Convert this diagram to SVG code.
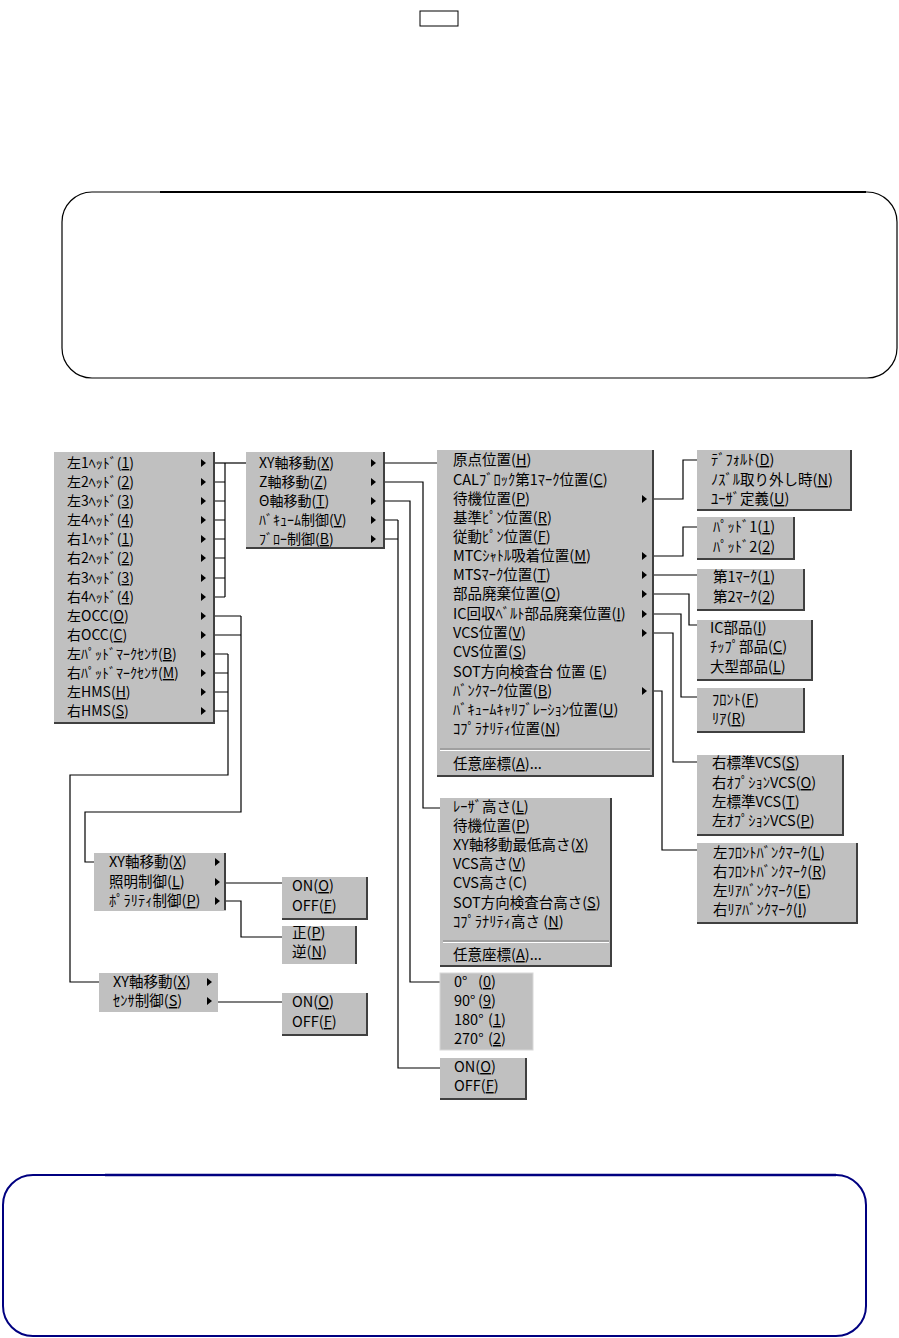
<svg xmlns="http://www.w3.org/2000/svg" xmlns:xlink="http://www.w3.org/1999/xlink" width="899" height="1338" viewBox="0 0 899 1338">
<style>
text{font-family:"Noto Sans CJK JP","Noto Sans",sans-serif;font-size:14.5px;fill:#000}
.s14{font-size:14px}
.u{text-decoration:underline}
.bg{fill:#c0c0c0}
.edge{fill:none;stroke:#404040;stroke-width:2}
.sepd{stroke:#808080;stroke-width:1}
.sepl{stroke:#ffffff;stroke-width:1}
.conn path{fill:none;stroke:#000;stroke-width:1.2}
</style>
<defs>
<path id="arr" d="M0,-4L5,0L0,4Z" fill="#000"/>
</defs>

<g id="top-box">
<rect x="420" y="11" width="38" height="15" fill="none" stroke="#000" stroke-width="1"/>
</g>

<g id="note-box-1">
<rect x="62" y="192" width="835" height="186" rx="30" ry="30" fill="none" stroke="#000" stroke-width="1.2"/>
<line x1="160" y1="192" x2="866" y2="192" stroke="#000" stroke-width="2"/>
</g>

<g id="note-box-2">
<rect x="3" y="1175" width="863" height="161" rx="30" ry="30" fill="none" stroke="#000080" stroke-width="2"/>
<line x1="105" y1="1175" x2="836" y2="1175" stroke="#000080" stroke-width="2.5"/>
</g>

<g id="connectors" class="conn">
<path d="M215,463H246"/>
<path d="M225,463V597"/>
<path d="M215,482H225M215,501H225M215,520H225M215,539H225M215,558H225M215,578H225M215,597H225"/>
<path d="M215,616H241M215,635H241M241,616V812H85V862H94"/>
<path d="M215,654H228M215,673H228M215,692H228M215,711H228M228,654V775H70V982H99"/>
<path d="M385,463H437"/>
<path d="M385,482H423V808H440"/>
<path d="M385,501H410V982H440"/>
<path d="M385,520H398M385,539H398M398,520V1068H440"/>
<path d="M653,499H683V460H697"/>
<path d="M653,556H683V527H697"/>
<path d="M653,575H697"/>
<path d="M653,594H689V625H697"/>
<path d="M653,614H681V697H697"/>
<path d="M653,633H673V762H697"/>
<path d="M653,691H662V850H697"/>
<path d="M226,883H282"/>
<path d="M226,901H241V937H282"/>
<path d="M218,1002H282"/>
</g>

<g id="menu-heads">
<rect class="bg" x="54" y="452" width="161" height="272"/>
<path class="edge" d="M214,452V723H54"/>
<text class="s14" x="67" y="468">左1ﾍｯﾄﾞ(<tspan class="u">1</tspan>)</text>
<text class="s14" x="67" y="487">左2ﾍｯﾄﾞ(<tspan class="u">2</tspan>)</text>
<text class="s14" x="67" y="506">左3ﾍｯﾄﾞ(<tspan class="u">3</tspan>)</text>
<text class="s14" x="67" y="525">左4ﾍｯﾄﾞ(<tspan class="u">4</tspan>)</text>
<text class="s14" x="67" y="544">右1ﾍｯﾄﾞ(<tspan class="u">1</tspan>)</text>
<text class="s14" x="67" y="563">右2ﾍｯﾄﾞ(<tspan class="u">2</tspan>)</text>
<text class="s14" x="67" y="583">右3ﾍｯﾄﾞ(<tspan class="u">3</tspan>)</text>
<text class="s14" x="67" y="602">右4ﾍｯﾄﾞ(<tspan class="u">4</tspan>)</text>
<text class="s14" x="67" y="621">左OCC(<tspan class="u">O</tspan>)</text>
<text class="s14" x="67" y="640">右OCC(<tspan class="u">C</tspan>)</text>
<text class="s14" x="67" y="659">左ﾊﾟｯﾄﾞﾏｰｸｾﾝｻ(<tspan class="u">B</tspan>)</text>
<text class="s14" x="67" y="678">右ﾊﾟｯﾄﾞﾏｰｸｾﾝｻ(<tspan class="u">M</tspan>)</text>
<text class="s14" x="67" y="697">左HMS(<tspan class="u">H</tspan>)</text>
<text class="s14" x="67" y="716">右HMS(<tspan class="u">S</tspan>)</text>
<use href="#arr" x="201" y="463"/><use href="#arr" x="201" y="482"/><use href="#arr" x="201" y="501"/><use href="#arr" x="201" y="520"/>
<use href="#arr" x="201" y="539"/><use href="#arr" x="201" y="558"/><use href="#arr" x="201" y="578"/><use href="#arr" x="201" y="597"/>
<use href="#arr" x="201" y="616"/><use href="#arr" x="201" y="635"/><use href="#arr" x="201" y="654"/><use href="#arr" x="201" y="673"/>
<use href="#arr" x="201" y="692"/><use href="#arr" x="201" y="711"/>
</g>

<g id="menu-axis">
<rect class="bg" x="246" y="452" width="139" height="97"/>
<path class="edge" d="M384,452V548H246"/>
<text class="s14" x="259" y="468">XY軸移動(<tspan class="u">X</tspan>)</text>
<text class="s14" x="259" y="487">Z軸移動(<tspan class="u">Z</tspan>)</text>
<text class="s14" x="259" y="506">Θ軸移動(<tspan class="u">T</tspan>)</text>
<text class="s14" x="259" y="525">ﾊﾞｷｭｰﾑ制御(<tspan class="u">V</tspan>)</text>
<text class="s14" x="259" y="544">ﾌﾞﾛｰ制御(<tspan class="u">B</tspan>)</text>
<use href="#arr" x="371" y="463"/><use href="#arr" x="371" y="482"/><use href="#arr" x="371" y="501"/><use href="#arr" x="371" y="520"/><use href="#arr" x="371" y="539"/>
</g>

<g id="menu-xy">
<rect class="bg" x="437" y="450" width="216" height="326"/>
<path class="edge" d="M653,450V776H437" stroke="#707070"/>
<text x="453" y="465">原点位置(<tspan class="u">H</tspan>)</text>
<text x="453" y="485">CALﾌﾞﾛｯｸ第1ﾏｰｸ位置(<tspan class="u">C</tspan>)</text>
<text x="453" y="504">待機位置(<tspan class="u">P</tspan>)</text>
<text x="453" y="523">基準ﾋﾟﾝ位置(<tspan class="u">R</tspan>)</text>
<text x="453" y="542">従動ﾋﾟﾝ位置(<tspan class="u">F</tspan>)</text>
<text x="453" y="561">MTCｼｬﾄﾙ吸着位置(<tspan class="u">M</tspan>)</text>
<text x="453" y="580">MTSﾏｰｸ位置(<tspan class="u">T</tspan>)</text>
<text x="453" y="599">部品廃棄位置(<tspan class="u">O</tspan>)</text>
<text x="453" y="619">IC回収ﾍﾞﾙﾄ部品廃棄位置(<tspan class="u">I</tspan>)</text>
<text x="453" y="638">VCS位置(<tspan class="u">V</tspan>)</text>
<text x="453" y="657">CVS位置(<tspan class="u">S</tspan>)</text>
<text x="453" y="677">SOT方向検査台 位置 (<tspan class="u">E</tspan>)</text>
<text x="453" y="696">ﾊﾞﾝｸﾏｰｸ位置(<tspan class="u">B</tspan>)</text>
<text x="453" y="715">ﾊﾞｷｭｰﾑｷｬﾘﾌﾞﾚｰｼｮﾝ位置(<tspan class="u">U</tspan>)</text>
<text x="453" y="734">ｺﾌﾟﾗﾅﾘﾃｨ位置(<tspan class="u">N</tspan>)</text>
<line class="sepd" x1="440" y1="749" x2="650" y2="749"/>
<line class="sepl" x1="440" y1="750.5" x2="650" y2="750.5"/>
<text x="453" y="769">任意座標(<tspan class="u">A</tspan>)...</text>
<use href="#arr" x="642" y="499"/><use href="#arr" x="642" y="556"/><use href="#arr" x="642" y="575"/><use href="#arr" x="642" y="594"/>
<use href="#arr" x="642" y="614"/><use href="#arr" x="642" y="633"/><use href="#arr" x="642" y="691"/>
</g>

<g id="menu-standby">
<rect class="bg" x="697" y="450" width="155" height="61"/>
<path class="edge" d="M851,450V510H697"/>
<text x="711" y="465">ﾃﾞﾌｫﾙﾄ(<tspan class="u">D</tspan>)</text>
<text x="711" y="485">ﾉｽﾞﾙ取り外し時(<tspan class="u">N</tspan>)</text>
<text x="711" y="504">ﾕｰｻﾞ定義(<tspan class="u">U</tspan>)</text>
</g>

<g id="menu-pad">
<rect class="bg" x="697" y="517" width="98" height="43"/>
<path class="edge" d="M794,517V559H697"/>
<text x="713" y="532">ﾊﾟｯﾄﾞ1(<tspan class="u">1</tspan>)</text>
<text x="713" y="552">ﾊﾟｯﾄﾞ2(<tspan class="u">2</tspan>)</text>
</g>

<g id="menu-mark">
<rect class="bg" x="697" y="569" width="108" height="42"/>
<path class="edge" d="M804,569V610H697"/>
<text x="713" y="582">第1ﾏｰｸ(<tspan class="u">1</tspan>)</text>
<text x="713" y="602">第2ﾏｰｸ(<tspan class="u">2</tspan>)</text>
</g>

<g id="menu-parts">
<rect class="bg" x="697" y="620" width="116" height="61"/>
<path class="edge" d="M812,620V680H697"/>
<text x="710" y="633">IC部品(<tspan class="u">I</tspan>)</text>
<text x="710" y="652">ﾁｯﾌﾟ部品(<tspan class="u">C</tspan>)</text>
<text x="710" y="672">大型部品(<tspan class="u">L</tspan>)</text>
</g>

<g id="menu-frontrear">
<rect class="bg" x="697" y="688" width="108" height="45"/>
<path class="edge" d="M804,688V732H697"/>
<text x="712" y="705">ﾌﾛﾝﾄ(<tspan class="u">F</tspan>)</text>
<text x="712" y="724">ﾘｱ(<tspan class="u">R</tspan>)</text>
</g>

<g id="menu-vcs">
<rect class="bg" x="697" y="755" width="147" height="81"/>
<path class="edge" d="M843,755V835H697"/>
<text x="712" y="768">右標準VCS(<tspan class="u">S</tspan>)</text>
<text x="712" y="788">右ｵﾌﾟｼｮﾝVCS(<tspan class="u">O</tspan>)</text>
<text x="712" y="807">左標準VCS(<tspan class="u">T</tspan>)</text>
<text x="712" y="826">左ｵﾌﾟｼｮﾝVCS(<tspan class="u">P</tspan>)</text>
</g>

<g id="menu-bankmark">
<rect class="bg" x="697" y="843" width="161" height="81"/>
<path class="edge" d="M857,843V923H697"/>
<text x="713" y="858">左ﾌﾛﾝﾄﾊﾞﾝｸﾏｰｸ(<tspan class="u">L</tspan>)</text>
<text x="713" y="877">右ﾌﾛﾝﾄﾊﾞﾝｸﾏｰｸ(<tspan class="u">R</tspan>)</text>
<text x="713" y="896">左ﾘｱﾊﾞﾝｸﾏｰｸ(<tspan class="u">E</tspan>)</text>
<text x="713" y="915">右ﾘｱﾊﾞﾝｸﾏｰｸ(<tspan class="u">I</tspan>)</text>
</g>

<g id="menu-z">
<rect class="bg" x="440" y="798" width="172" height="169"/>
<path class="edge" d="M611,798V966H440"/>
<text x="453" y="812">ﾚｰｻﾞ高さ(<tspan class="u">L</tspan>)</text>
<text x="453" y="831">待機位置(<tspan class="u">P</tspan>)</text>
<text x="453" y="850">XY軸移動最低高さ(<tspan class="u">X</tspan>)</text>
<text x="453" y="869">VCS高さ(<tspan class="u">V</tspan>)</text>
<text x="453" y="888">CVS高さ(C)</text>
<text x="453" y="908">SOT方向検査台高さ(<tspan class="u">S</tspan>)</text>
<text x="453" y="927">ｺﾌﾟﾗﾅﾘﾃｨ高さ (<tspan class="u">N</tspan>)</text>
<line class="sepd" x1="443" y1="941" x2="609" y2="941"/>
<line class="sepl" x1="443" y1="942.5" x2="609" y2="942.5"/>
<text x="453" y="960">任意座標(<tspan class="u">A</tspan>)...</text>
</g>

<g id="menu-theta">
<rect class="bg" x="440" y="973" width="93" height="77" stroke="#d8d8d8" stroke-width="1"/>
<text x="454" y="987">0°<tspan x="478">(<tspan class="u">0</tspan>)</tspan></text>
<text x="454" y="1006">90°<tspan x="478">(<tspan class="u">9</tspan>)</tspan></text>
<text x="454" y="1025">180°<tspan x="488">(<tspan class="u">1</tspan>)</tspan></text>
<text x="454" y="1044">270°<tspan x="488">(<tspan class="u">2</tspan>)</tspan></text>
</g>

<g id="menu-vacuum">
<rect class="bg" x="440" y="1058" width="87" height="42"/>
<path class="edge" d="M526,1058V1099H440"/>
<text x="454" y="1072">ON(<tspan class="u">O</tspan>)</text>
<text x="454" y="1091">OFF(<tspan class="u">F</tspan>)</text>
</g>

<g id="menu-occ">
<rect class="bg" x="94" y="853" width="132" height="58"/>
<path class="edge" d="M225,853V910"/>
<text x="109" y="867">XY軸移動(<tspan class="u">X</tspan>)</text>
<text x="109" y="887">照明制御(<tspan class="u">L</tspan>)</text>
<text x="109" y="906">ﾎﾟﾗﾘﾃｨ制御(<tspan class="u">P</tspan>)</text>
<use href="#arr" x="215" y="862"/><use href="#arr" x="215" y="882"/><use href="#arr" x="215" y="901"/>
</g>

<g id="menu-light">
<rect class="bg" x="282" y="877" width="86" height="43"/>
<path class="edge" d="M367,877V919H282"/>
<text x="292" y="891">ON(<tspan class="u">O</tspan>)</text>
<text x="292" y="911">OFF(<tspan class="u">F</tspan>)</text>
</g>

<g id="menu-polarity">
<rect class="bg" x="282" y="926" width="75" height="38"/>
<path class="edge" d="M356,926V964"/>
<text x="292" y="938">正(<tspan class="u">P</tspan>)</text>
<text x="292" y="957">逆(<tspan class="u">N</tspan>)</text>
</g>

<g id="menu-sensor">
<rect class="bg" x="99" y="973" width="119" height="39"/>
<text x="113" y="987">XY軸移動(<tspan class="u">X</tspan>)</text>
<text x="113" y="1006">ｾﾝｻ制御(<tspan class="u">S</tspan>)</text>
<use href="#arr" x="207" y="982"/><use href="#arr" x="207" y="1001"/>
</g>

<g id="menu-sensor-onoff">
<rect class="bg" x="282" y="993" width="86" height="43"/>
<path class="edge" d="M367,993V1035H282"/>
<text x="292" y="1007">ON(<tspan class="u">O</tspan>)</text>
<text x="292" y="1027">OFF(<tspan class="u">F</tspan>)</text>
</g>
</svg>
